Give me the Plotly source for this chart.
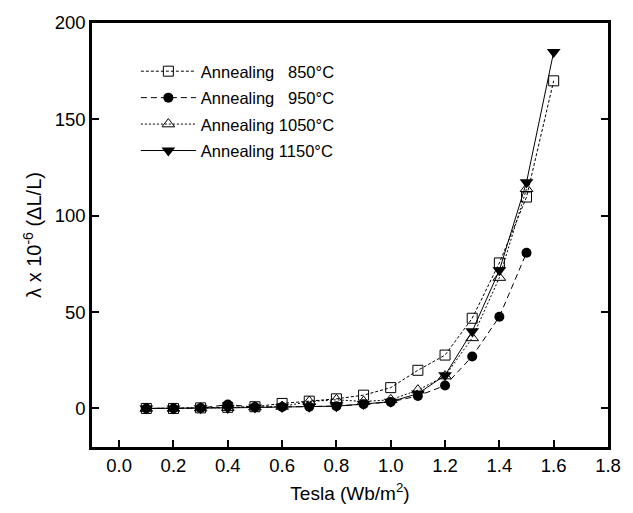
import plotly.graph_objects as go

# Magnetic field (Tesla) at which the magnetostriction was measured
field_long = [0.1, 0.2, 0.3, 0.4, 0.5, 0.6, 0.7, 0.8, 0.9, 1.0, 1.1, 1.2, 1.3, 1.4, 1.5, 1.6]
field_short = [0.1, 0.2, 0.3, 0.4, 0.5, 0.6, 0.7, 0.8, 0.9, 1.0, 1.1, 1.2, 1.3, 1.4, 1.5]

# Magnetostriction lambda x 10^-6 for each annealing temperature
lam_850 = [0, 0, 0.3, 0.6, 0.9, 2.6, 3.8, 5.0, 6.9, 10.8, 19.8, 27.7, 46.8, 75.5, 109.7, 170]
lam_950 = [0, 0, 0.2, 2.0, 0.7, 0.8, 0.9, 1.2, 2.2, 3.4, 6.5, 11.9, 27.0, 47.6, 80.8]
lam_1050 = [0, 0, 0.2, 0.4, 0.7, 1.0, 3.6, 4.5, 3.6, 4.5, 9.5, 16.8, 36.6, 67.9, 114]
lam_1150 = [0, 0, 0.1, 0.3, 0.5, 0.7, 0.9, 1.2, 2.3, 3.5, 7.7, 17.2, 40.0, 71.7, 117.4, 185]

names = ["Annealing \u2007850°C", "Annealing \u2007950°C", "Annealing 1050°C", "Annealing 1150°C"]

x_ticks = [0.0, 0.2, 0.4, 0.6, 0.8, 1.0, 1.2, 1.4, 1.6, 1.8]
y_ticks = [0, 50, 100, 150, 200]

FONT = "Liberation Sans, Arial, sans-serif"

fig = go.Figure()

series = [
    (field_long, lam_850, names[0], "3px,2px",
     dict(symbol="square-open", size=10, color="black", line=dict(width=1, color="black"))),
    (field_short, lam_950, names[1], "6px,4px",
     dict(symbol="circle", size=10, color="black", line=dict(width=0))),
    (field_short, lam_1050, names[2], "2px,2px",
     dict(symbol="triangle-up-open", size=11, color="black", line=dict(width=1, color="black"))),
    (field_long, lam_1150, names[3], "solid",
     dict(symbol="triangle-down", size=12, color="black", line=dict(width=0))),
]

for i, (xs, ys, name, dash, marker) in enumerate(series):
    fig.add_trace(go.Scatter(
        x=xs, y=ys, name=name, mode="lines+markers",
        line=dict(color="black", width=1, dash=dash),
        marker=marker, legendgroup=f"g{i}",
    ))

axis_common = dict(
    showgrid=False, zeroline=False,
    showline=True, linecolor="black", linewidth=2.5,
    ticks="inside", ticklen=7, tickwidth=2, tickcolor="black",
    tickfont=dict(family=FONT, size=18.5, color="black"),
)

fig.update_xaxes(
    range=[-0.1, 1.8], tickvals=x_ticks, tickformat=".1f", mirror=True,
    title=dict(text="Tesla (Wb/m<sup>2</sup>)", font=dict(family=FONT, size=19, color="black"), standoff=12),
    **axis_common,
)
fig.update_yaxes(
    range=[-20, 200], tickvals=y_ticks, mirror="ticks",
    title=dict(text="λ x 10<sup>-6</sup> (ΔL/L)", font=dict(family=FONT, size=20, color="black"), standoff=8),
    **axis_common,
)

fig.update_layout(
    width=633, height=513,
    margin=dict(l=92, r=16, t=21, b=65),
    paper_bgcolor="white", plot_bgcolor="white",
    font=dict(family=FONT, color="black"),
    showlegend=True,
    legend=dict(
        x=0.085, y=0.927, xanchor="left", yanchor="top",
        bgcolor="rgba(0,0,0,0)", borderwidth=0,
        font=dict(family=FONT, size=16.5, color="black"),
        traceorder="grouped", tracegroupgap=2,
        itemwidth=55,
    ),
)

fig.write_html("out.html")
